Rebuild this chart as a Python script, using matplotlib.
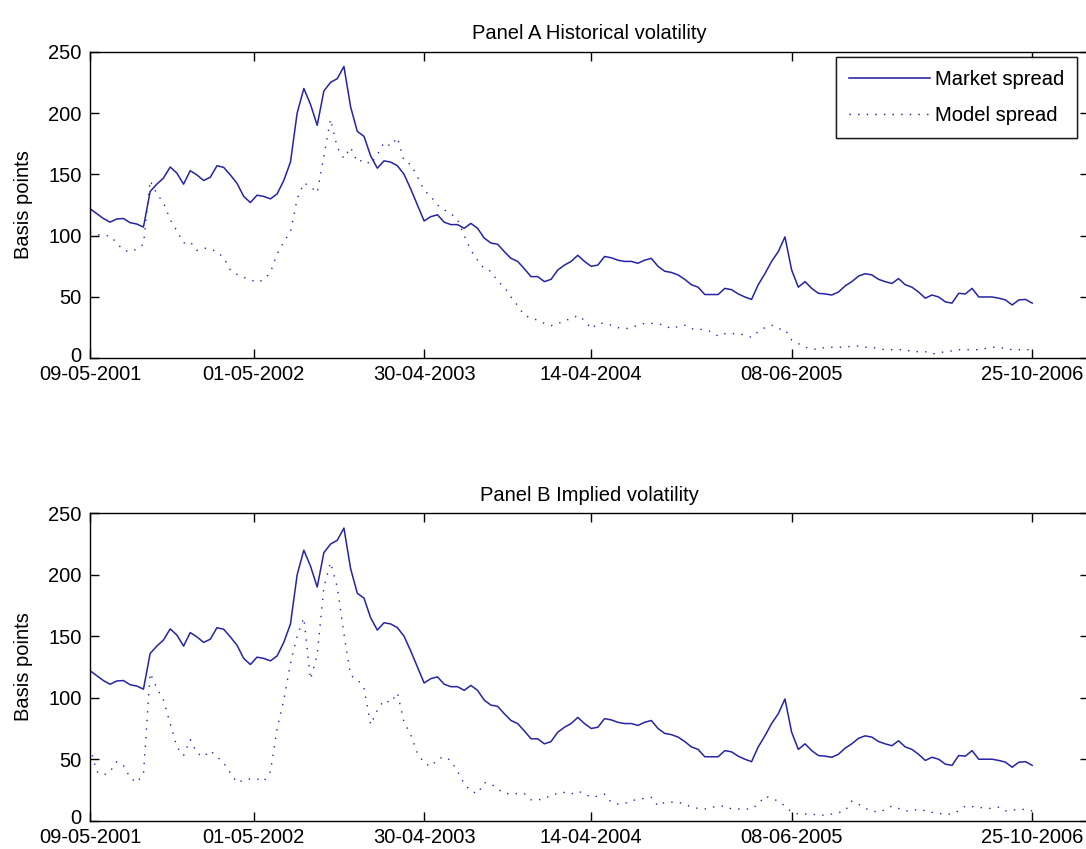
import numpy as np
import matplotlib
matplotlib.use('Agg')
import matplotlib.pyplot as plt
import matplotlib.transforms as mtransforms

market = [
    122, 118, 114, 111, 113.6, 114, 110.6, 109.5, 107, 136,
    142, 147, 156, 151, 142, 153, 149.5, 145, 147.6, 157,
    155.7, 149.5, 142.7, 132, 127, 133, 132, 130, 134, 145,
    160, 200, 220, 207, 190, 218, 225, 228, 238, 205,
    185, 181, 165, 155, 161, 160, 157, 150, 138, 125,
    112, 115.5, 117, 111, 109, 109, 106, 110, 106, 98,
    94, 93, 87, 81.5, 79, 73, 66.6, 66.6, 62.5, 64.4,
    72, 76, 79, 84, 79, 75, 76, 83, 82, 80,
    79, 79, 77.5, 80, 81.5, 75, 71, 70, 68, 64.4,
    60, 58, 52, 52, 52, 57, 56, 52.5, 50, 48,
    60, 69, 79, 87, 99, 72, 58, 62.5, 57, 53,
    52.5, 51.6, 54, 59, 62.5, 67, 69, 68, 64.4, 62.5,
    61, 65, 60, 58, 54, 49, 51.6, 50, 46, 45,
    53, 52.5, 57, 50, 50, 50, 49, 47.6, 43.5, 47.6,
    48, 45,
]

model_hist = [
    103, 101, 100, 100, 94, 88, 87, 89, 93, 145,
    134, 127, 113, 104, 94, 95, 88, 90, 89, 87,
    82, 72, 68.5, 66, 64, 62, 64, 70, 85, 95,
    103, 130, 143, 140, 135, 165, 195, 172, 163, 172,
    160, 162, 158, 166, 176, 173, 180, 161, 158, 148,
    137, 132, 125, 121, 118, 113, 100, 88, 80, 73,
    71, 63, 58, 50, 43, 35, 33, 31, 28.5, 26.6,
    28, 31, 32, 35, 31, 24, 28.5, 28.5, 27, 25,
    24, 25, 27, 28.5, 28.5, 28, 27, 24, 26, 27,
    24, 24, 23, 21.7, 18, 20, 20, 20, 19, 17,
    21.7, 25, 27, 24, 23.6, 15, 12, 9, 8, 7,
    9, 9, 9, 9, 10, 10, 9, 9, 8, 7,
    7, 7, 7, 5.4, 5.4, 5.4, 3.5, 4.5, 5.4, 6,
    7, 7, 7, 7, 8, 9, 9, 8, 7, 7,
    7, 7,
]

model_impl = [
    60, 40, 37, 40, 48, 45, 35, 31, 38, 120,
    108, 98, 79, 60, 53, 66, 55, 52, 57, 52,
    47, 39, 31, 33, 34, 34, 32, 40, 75, 98,
    128, 150, 165, 115, 135, 190, 210, 190, 152, 118,
    115, 108, 78, 90, 98, 96, 104, 80, 70, 55,
    47, 44, 50, 52, 49, 40, 30, 24, 22, 31,
    30, 26, 22, 22, 22, 22, 17, 17, 17.6, 21,
    22, 23, 21.6, 24, 22, 19, 20, 21.6, 15, 13.5,
    14, 16, 17.6, 18, 19, 12, 15, 15, 15, 13.5,
    11, 10, 9.5, 11, 11.5, 12, 9.5, 9.5, 9.5, 9.5,
    13.5, 20, 18, 16, 12, 7, 5.4, 5.4, 5.4, 4.5,
    4.5, 5.4, 6.5, 8, 16, 13.5, 10, 8, 6.8, 9,
    12, 10, 8, 8, 9.5, 8, 6.8, 5.8, 5.4, 5.4,
    8, 12, 11.5, 11, 10, 10, 11, 8, 8.5, 9.5,
    9, 8,
]

tick_idx = [1, 50, 101, 151, 211, 283]
tick_labels = ['09-05-2001', '01-05-2002', '30-04-2003',
               '14-04-2004', '08-06-2005', '25-10-2006']
titles = ['Panel A Historical volatility', 'Panel B Implied volatility']
series_names = ['Market spread', 'Model spread']
y_ticks = [0, 50, 100, 150, 200, 250]

# ---- style ----
plt.rcParams['font.family'] = ['Liberation Sans', 'DejaVu Sans']
FS = 14.5
LINE_COLOR = '#2424a4'

W, H = 1086, 849
fig = plt.figure(figsize=(W / 100, H / 100), dpi=100)

x = 1 + 2 * np.arange(len(market))

# axes boxes in pixels: left, right, top, bottom
boxes = [(90, 1089, 51.7, 358.3), (90, 1089, 513.3, 820.7)]
models = [model_hist, model_impl]

for (l, r, t, b), title, model in zip(boxes, titles, models):
    ax = fig.add_axes([l / W, (H - b) / H, (r - l) / W, (b - t) / H])
    ax.plot(x, market, color=LINE_COLOR, lw=1.1, label=series_names[0])
    ax.plot(x, model, color=LINE_COLOR, lw=1.0, dashes=(1, 5.2),
            label=series_names[1])
    ax.set_xlim(1, 300)
    ax.set_ylim(0, 250)
    ax.set_xticks(tick_idx)
    ax.set_xticklabels(tick_labels)
    ax.set_yticks(y_ticks)
    ax.tick_params(direction='in', length=6.5, width=1.0, top=True,
                   right=True, labelsize=FS, pad=5, colors='black')
    ax.tick_params(axis='y', pad=6)
    for sp in ax.spines.values():
        sp.set_linewidth(1.0)
        sp.set_color('black')
    # the "0" label sits a little higher in the reference, clear of the dates
    zero_lab = ax.get_yticklabels()[0]
    zero_lab.set_transform(zero_lab.get_transform() +
                           mtransforms.ScaledTranslation(0, 4 / 100,
                                                         fig.dpi_scale_trans))
    ax.set_title(title, fontsize=FS, pad=9)
    ax.set_ylabel('Basis points', fontsize=FS, labelpad=11)
    leg = ax.legend(loc='upper right',
                    bbox_to_anchor=((1077 - l) / (r - l), (b - 57) / (b - t)),
                    borderaxespad=0, fontsize=FS, frameon=True, fancybox=False,
                    handlelength=4.0, handletextpad=0.25, labelspacing=0.85,
                    borderpad=0.65)
    leg.get_frame().set_edgecolor('black')
    leg.get_frame().set_linewidth(1.0)

fig.savefig('out.png', dpi=100)
